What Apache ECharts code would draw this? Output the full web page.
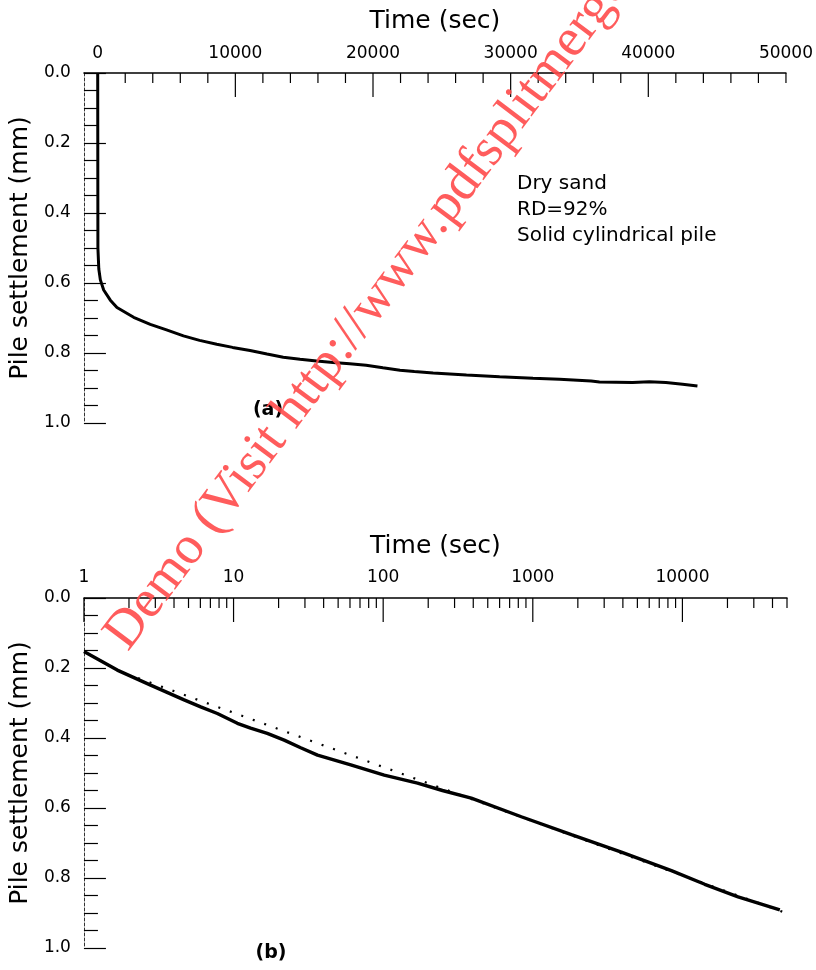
<!DOCTYPE html>
<html><head><meta charset="utf-8">
<script src="https://cdn.jsdelivr.net/npm/echarts@6/dist/echarts.min.js"></script>
<style>html,body{margin:0;padding:0;background:#fff}#c{width:816px;height:970px}</style>
</head><body><div id="c"></div>
<script>
// ---- Chart (a): linear time ----
const timeA   = [0, 15, 80, 193, 435, 917, 1400, 2610, 3820, 5000, 6230, 7400, 8650, 9800, 11070, 12300, 13480, 14700, 15900, 17100, 18310, 19500, 20720, 21960, 23000, 24370, 26790, 29200, 31620, 33550, 35850, 36450, 38860, 40070, 41280, 42490, 43570];
const settleA = [0.0, 0.50, 0.56, 0.591, 0.62, 0.649, 0.67, 0.698, 0.718, 0.734, 0.751, 0.764, 0.775, 0.784, 0.793, 0.803, 0.812, 0.818, 0.823, 0.827, 0.831, 0.835, 0.842, 0.849, 0.853, 0.857, 0.863, 0.868, 0.872, 0.875, 0.880, 0.883, 0.884, 0.882, 0.884, 0.889, 0.894];
// ---- Chart (b): log time ----
const timeB   = [1, 1.67, 2.79, 4.67, 6.03, 7.79, 10.6, 13.0, 16.8, 21.8, 28.1, 36.4, 60.7, 101.6, 169.7, 249, 388, 838, 1811, 3909, 8440, 14100, 23550, 44770];
const settleB = [0.153, 0.206, 0.249, 0.291, 0.311, 0.33, 0.358, 0.372, 0.387, 0.406, 0.428, 0.449, 0.477, 0.506, 0.529, 0.55, 0.572, 0.625, 0.676, 0.726, 0.779, 0.818, 0.854, 0.891];
const fitTimeB   = [2.3, 50000];
const fitSettleB = [0.229, 0.901];
// ---- tick labels / tick values ----
const xLabelsA      = [0, 10000, 20000, 30000, 40000, 50000];
const xMajorTicksA  = [0, 10000, 20000, 30000, 40000];
const xMinorTicksA  = [2000, 4000, 6000, 8000, 12000, 14000, 16000, 18000, 22000, 24000, 26000, 28000, 32000, 34000, 36000, 38000, 42000, 44000, 46000, 48000, 50000];
const xMajorTicksB  = [1, 10, 100, 1000, 10000];
const xMinorTicksB  = [2,3,4,5,6,7,8,9, 20,30,40,50,60,70,80,90, 200,300,400,500,600,700,800,900, 2000,3000,4000,5000,6000,7000,8000,9000, 20000,30000,40000,50000];
const yTickLabels   = ['0.0','0.2','0.4','0.6','0.8','1.0'];

const FONT = 'DejaVu Sans';
const chart = echarts.init(document.getElementById('c'), null, {renderer:'canvas'});

function tickSeries(xi, yi, values, len) {
  return {
    type: 'custom', xAxisIndex: xi, yAxisIndex: yi, clip: false, silent: true, z: 5,
    data: values.map(v => [v, 0]),
    renderItem: (params, api) => {
      const p = api.coord([api.value(0), 0]);
      return { type: 'line', shape: {x1: p[0], y1: p[1], x2: p[0], y2: p[1] + len},
               style: {stroke: '#000', lineWidth: 1.2} };
    }
  };
}
function yAx(gi) {
  return {
    gridIndex: gi, type: 'value', min: 0, max: 1, interval: 0.2, inverse: true,
    name: 'Pile settlement (mm)', nameLocation: 'middle', nameGap: 47, nameRotate: 90,
    nameTextStyle: {fontFamily: FONT, fontSize: 25, color: '#000'},
    axisLine: {show: true, onZero: false, lineStyle: {color: '#333', width: 1, type: [3, 2]}},
    axisTick: {show: true, inside: true, length: 22, lineStyle: {color: '#000', width: 1.2}},
    minorTick: {show: true, splitNumber: 4, length: 14, lineStyle: {color: '#000', width: 1.2}},
    axisLabel: {margin: 13, fontFamily: FONT, fontSize: 17, color: '#000',
                formatter: v => yTickLabels[Math.round(v / 0.2)]},
    splitLine: {show: false}, minorSplitLine: {show: false}
  };
}

const option = {
  animation: false,
  backgroundColor: '#fff',
  grid: [
    {left: 83, top: 73, width: 704, height: 350},
    {left: 83, top: 598, width: 704, height: 350}
  ],
  xAxis: [
    {
      gridIndex: 0, type: 'value', position: 'top', min: -1000, max: 50000,
      name: 'Time (sec)', nameLocation: 'middle', nameGap: 39,
      nameTextStyle: {fontFamily: FONT, fontSize: 25, color: '#000'},
      axisLine: {show: true, onZero: false, lineStyle: {color: '#000', width: 1.5}},
      axisTick: {show: false},
      axisLabel: {customValues: xLabelsA, margin: 11, fontFamily: FONT, fontSize: 17, color: '#000',
                  formatter: v => String(Math.round(v))},
      splitLine: {show: false}
    },
    {
      gridIndex: 1, type: 'log', logBase: 10, position: 'top', min: 1, max: 50000,
      name: 'Time (sec)', nameLocation: 'middle', nameGap: 39,
      nameTextStyle: {fontFamily: FONT, fontSize: 25, color: '#000'},
      axisLine: {show: true, onZero: false, lineStyle: {color: '#000', width: 1.5}},
      axisTick: {show: false}, minorTick: {show: false},
      axisLabel: {margin: 12, fontFamily: FONT, fontSize: 17, color: '#000',
                  formatter: v => (xMajorTicksB.indexOf(Math.round(v)) >= 0 ? String(Math.round(v)) : '')},
      splitLine: {show: false}, minorSplitLine: {show: false}
    }
  ],
  yAxis: [yAx(0), yAx(1)],
  series: [
    {
      type: 'line', xAxisIndex: 0, yAxisIndex: 0, showSymbol: false, symbol: 'none',
      data: timeA.map((t, i) => [t, settleA[i]]),
      lineStyle: {color: '#000', width: 3}, z: 3
    },
    tickSeries(0, 0, xMajorTicksA, 24),
    tickSeries(0, 0, xMinorTicksA, 10),
    {
      type: 'line', xAxisIndex: 1, yAxisIndex: 1, showSymbol: false, symbol: 'none',
      data: fitTimeB.map((t, i) => [t, fitSettleB[i]]),
      lineStyle: {color: '#000', width: 2.2, type: [2, 10.2], cap: 'butt'}, z: 2
    },
    {
      type: 'line', xAxisIndex: 1, yAxisIndex: 1, showSymbol: false, symbol: 'none',
      data: timeB.map((t, i) => [t, settleB[i]]),
      lineStyle: {color: '#000', width: 3.4}, z: 3
    },
    tickSeries(1, 1, xMajorTicksB, 24),
    tickSeries(1, 1, xMinorTicksB, 10)
  ],
  graphic: [
    {type: 'text', left: 517, top: 171, z: 10,
     style: {text: 'Dry sand\nRD=92%\nSolid cylindrical pile', font: '20px "DejaVu Sans"', lineHeight: 26, fill: '#000'}},
    {type: 'text', x: 268, y: 410, z: 10,
     style: {text: '(a)', font: 'bold 19px "DejaVu Sans"', fill: '#000', align: 'center', verticalAlign: 'middle'}},
    {type: 'text', x: 271, y: 953, z: 10,
     style: {text: '(b)', font: 'bold 19px "DejaVu Sans"', fill: '#000', align: 'center', verticalAlign: 'middle'}},
    {type: 'text', x: 138, y: 660, rotation: 53 * Math.PI / 180, z: 100,
     style: {text: 'Demo (Visit http://www.pdfsplitmerger.com)', font: '54px "Liberation Serif"',
             fill: '#ff4a4a', opacity: 0.9, align: 'left', verticalAlign: 'bottom'}}
  ]
};
chart.setOption(option);
</script>
</body></html>
